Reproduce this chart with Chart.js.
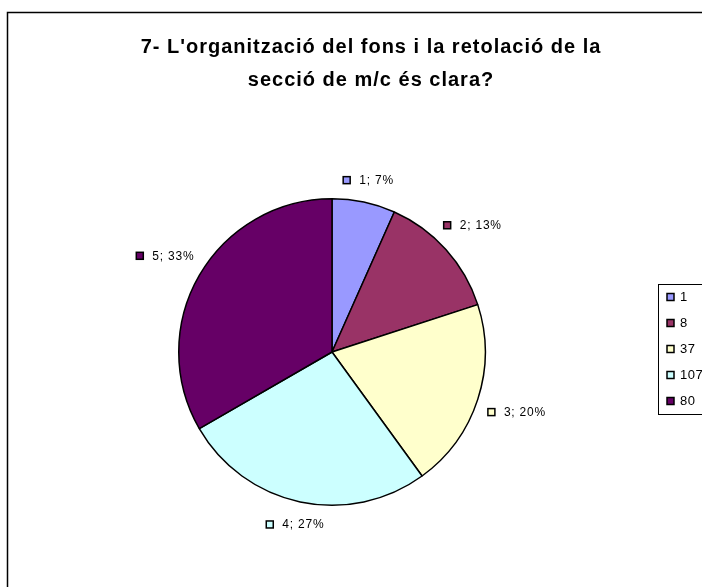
<!DOCTYPE html>
<html>
<head>
<meta charset="utf-8">
<script src="https://cdn.jsdelivr.net/npm/chart.js@4"></script>
<style>
  html, body { margin: 0; padding: 0; background: #fff; overflow: hidden; }
  canvas { display: block; }
</style>
</head>
<body>
<canvas id="pieChart" width="702" height="587"></canvas>
<script>
// dades del gràfic
const categories = ['1', '2', '3', '4', '5'];
const values = [1, 2, 3, 4, 5];
const legendLabels = ['1', '8', '37', '107', '80'];
const sliceColors = ['#9999FF', '#993366', '#FFFFCC', '#CCFFFF', '#660066'];
const titleLines = ["7- L'organització del fons i la retolació de la", 'secció de m/c és clara?'];

const fontFamily = '"Liberation Sans", Arial, sans-serif';

function sumArray(array) {
    return array.reduce((acc, v) => acc + v, 0);
}

function drawMarker(ctx, x, cy, color) {
    ctx.fillStyle = color;
    ctx.fillRect(x, cy - 3.5, 7, 7);
    ctx.strokeStyle = '#000';
    ctx.lineWidth = 1.5;
    ctx.strokeRect(x, cy - 3.5, 7, 7);
}

// marc exterior i títol
const framePlugin = {
    id: 'frame',
    beforeDraw(chart) {
        const ctx = chart.ctx;
        ctx.save();
        ctx.fillStyle = '#fff';
        ctx.fillRect(0, 0, chart.width, chart.height);
        ctx.strokeStyle = '#000';
        ctx.lineWidth = 1.5;
        ctx.strokeRect(7.5, 12.5, 800, 800);
        ctx.fillStyle = '#000';
        ctx.font = 'bold 20px ' + fontFamily;
        ctx.letterSpacing = '1px';
        ctx.textAlign = 'center';
        ctx.textBaseline = 'middle';
        ctx.fillText(titleLines[0], 371, 47);
        ctx.fillText(titleLines[1], 371, 80);
        ctx.restore();
    }
};

// etiquetes "categoria; percentatge" fora del pastís
const sliceLabelPlugin = {
    id: 'sliceLabels',
    afterDatasetsDraw(chart) {
        const ctx = chart.ctx;
        const meta = chart.getDatasetMeta(0);
        const total = sumArray(values);
        ctx.save();
        ctx.font = '12px ' + fontFamily;
        ctx.letterSpacing = '0.8px';
        ctx.textBaseline = 'middle';
        ctx.textAlign = 'left';
        meta.data.forEach((arc, i) => {
            const p = arc.getProps(['x', 'y', 'startAngle', 'endAngle', 'outerRadius'], true);
            const mid = (p.startAngle + p.endAngle) / 2;
            const text = categories[i] + '; ' + Math.round(values[i] / total * 100) + '%';
            const w = 16 + ctx.measureText(text).width;
            const R = p.outerRadius + 18 + Math.abs(Math.cos(mid)) * w * 0.42;
            const cx = p.x + Math.cos(mid) * R;
            const cy = p.y + Math.sin(mid) * R;
            const left = cx - w / 2;
            drawMarker(ctx, left, cy, sliceColors[i]);
            ctx.fillStyle = '#000';
            ctx.fillText(text, left + 16, cy + 0.5);
        });
        ctx.restore();
    }
};

// llegenda amb marc a la dreta
const legendBoxPlugin = {
    id: 'legendBox',
    afterDraw(chart) {
        const ctx = chart.ctx;
        const x0 = 658, y0 = 284, rowH = 26;
        ctx.save();
        ctx.strokeStyle = '#000';
        ctx.lineWidth = 1;
        ctx.strokeRect(x0 + 0.5, y0 + 0.5, 80, rowH * legendLabels.length);
        ctx.font = '13px ' + fontFamily;
        ctx.letterSpacing = '0.5px';
        ctx.textBaseline = 'middle';
        ctx.textAlign = 'left';
        legendLabels.forEach((lab, i) => {
            const cy = y0 + 13 + i * rowH;
            drawMarker(ctx, x0 + 9, cy, sliceColors[i]);
            ctx.fillStyle = '#000';
            ctx.fillText(lab, x0 + 22, cy + 0.5);
        });
        ctx.restore();
    }
};

const ctx = document.getElementById('pieChart').getContext('2d');
new Chart(ctx, {
    type: 'pie',
    data: {
        labels: categories,
        datasets: [{
            data: values,
            backgroundColor: sliceColors,
            borderColor: '#000',
            borderWidth: 1.5
        }]
    },
    options: {
        responsive: false,
        animation: false,
        layout: {
            padding: { left: 178, right: 216, top: 198, bottom: 81 }
        },
        plugins: {
            legend: { display: false },
            title: { display: false },
            tooltip: { enabled: false }
        }
    },
    plugins: [framePlugin, sliceLabelPlugin, legendBoxPlugin]
});
</script>
</body>
</html>
